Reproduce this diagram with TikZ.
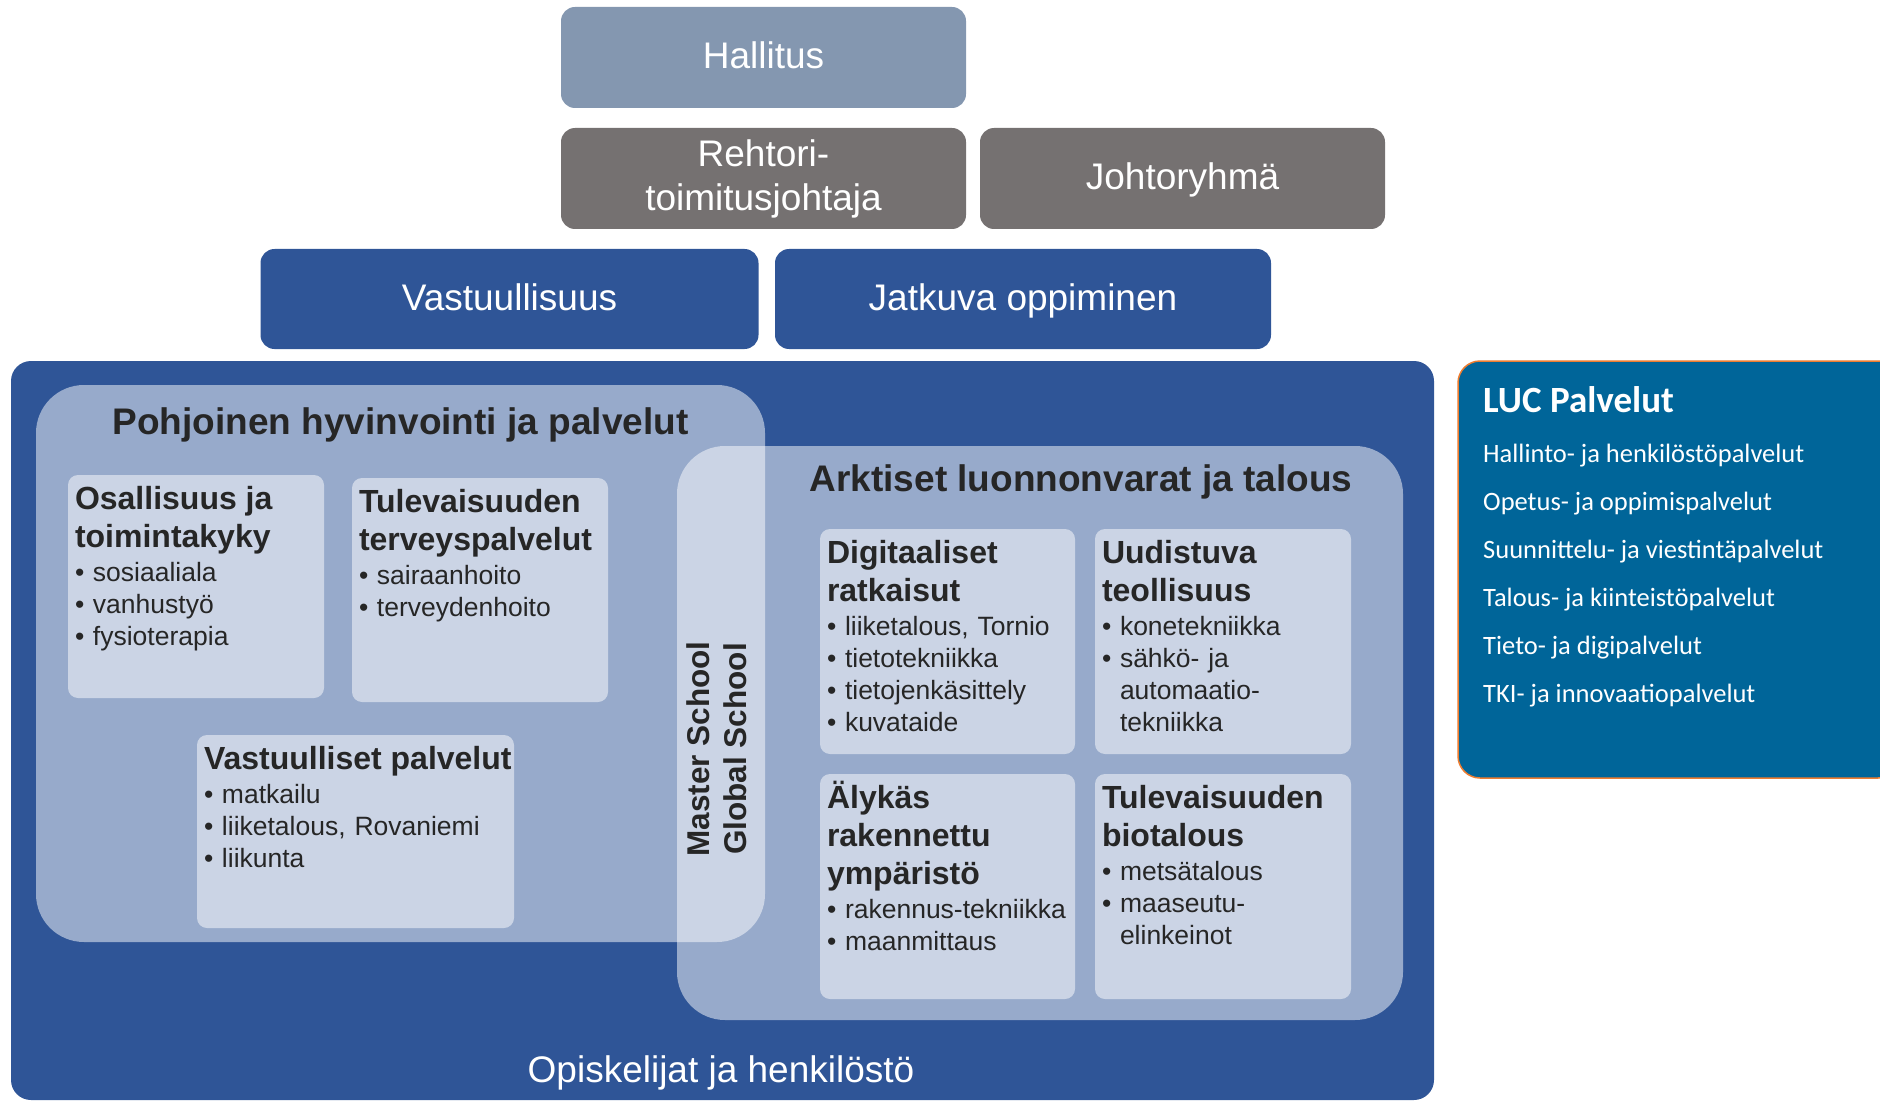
\documentclass[tikz,border=0pt]{standalone}
\usepackage{fontspec}
\setmainfont{Liberation Sans}
\newfontfamily\calibfont{Carlito}
\definecolor{hallc}{RGB}{132,151,176}
\definecolor{greyc}{RGB}{117,113,113}
\definecolor{bluec}{RGB}{47,85,151}
\definecolor{lucc}{RGB}{0,101,153}
\definecolor{orangec}{RGB}{237,125,49}
\definecolor{txtc}{RGB}{38,38,38}
\newcommand\hd{\fontsize{32}{38}\selectfont\bfseries}
\newcommand\bul{\makebox[18pt][l]{\textbullet}}
\newcommand\cont{\hspace*{18pt}}
\newcommand\firstline{\rule{0pt}{30pt}}
\begin{document}
\begin{tikzpicture}[x=1pt,y=-1pt,
  box/.style={rounded corners=14pt, inner sep=0pt, text=white, font=\fontsize{37}{44}\selectfont},
  oneline/.style={text height=27pt, text depth=4pt},
  overlaybox/.style={fill=white, fill opacity=0.5, rounded corners=48pt, inner sep=0pt},
  card/.style={fill=white, fill opacity=0.5, rounded corners=10pt, inner sep=0pt},
  cardtext/.style={anchor=north west, inner sep=0pt, text width=340pt, align=left, text=txtc, font=\fontsize{26.5}{32}\selectfont},
  bigtitle/.style={anchor=base, inner sep=0pt, text=txtc, font=\fontsize{37}{44}\selectfont\bfseries},
  luci/.style={anchor=base west, inner sep=0pt, text=white, font=\calibfont\fontsize{26.5}{32}\selectfont}
]
\useasboundingbox (0,0) rectangle (1880,1102);

% top boxes
\node[box, oneline, fill=hallc, minimum width=405pt, minimum height=101pt] (hall) at (763.5,57.5) {Hallitus};
\node[box, fill=greyc, align=center, minimum width=405pt, minimum height=101pt] (rehtori) at (763.5,178.5) {Rehtori-\\toimitusjohtaja};
\node[box, oneline, fill=greyc, minimum width=405pt, minimum height=101pt] (johto) at (1182.5,178.5) {Johtoryhmä};
\node[box, oneline, fill=bluec, minimum width=498pt, minimum height=100pt] (vast) at (509.5,299) {Vastuullisuus};
\node[box, oneline, fill=bluec, minimum width=496pt, minimum height=100pt] (jatk) at (1023,299) {Jatkuva oppiminen};

% outer box
\node[fill=bluec, rounded corners=20pt, inner sep=0pt, minimum width=1423pt, minimum height=739pt] (outer) at (722.5,730.5) {};
\node[anchor=base, inner sep=0pt, text=white, font=\fontsize{37}{44}\selectfont] (opisk) at (721,1082) {Opiskelijat ja henkilöstö};

% overlays
\node[overlaybox, minimum width=729pt, minimum height=557pt] (pohj) at (400.5,663.5) {};
\node[overlaybox, minimum width=726pt, minimum height=574pt] (arkt) at (1040,733) {};

\node[bigtitle] (pohjt) at (400.5,434) {Pohjoinen hyvinvointi ja palvelut};
\node[bigtitle] (arktt) at (1081,491) {Arktiset luonnonvarat ja talous};

% cards
\node[card, minimum width=256pt, minimum height=223pt] (osal) at (196,586.5) {};
\node[card, minimum width=256pt, minimum height=224pt] (terv) at (480,590) {};
\node[card, minimum width=317pt, minimum height=193pt] (vpalv) at (355.5,831.5) {};
\node[card, minimum width=255pt, minimum height=225pt] (digi) at (947.5,641.5) {};
\node[card, minimum width=256pt, minimum height=225pt] (uudi) at (1223,641.5) {};
\node[card, minimum width=255pt, minimum height=225pt] (alyk) at (947.5,886.5) {};
\node[card, minimum width=256pt, minimum height=225pt] (bio) at (1223,886.5) {};

\node[cardtext] (osalt) at ([xshift=7pt,yshift=-4pt]osal.north west)
  {\firstline{\hd Osallisuus ja}\\[6pt]{\hd toimintakyky}\\[2pt]\bul sosiaaliala\\\bul vanhustyö\\\bul fysioterapia};
\node[cardtext] (tervt) at ([xshift=7pt,yshift=-4pt]terv.north west)
  {\firstline{\hd Tulevaisuuden}\\[6pt]{\hd terveyspalvelut}\\[2pt]\bul sairaanhoito\\\bul terveydenhoito};
\node[cardtext] (vpalvt) at ([xshift=7pt,yshift=-4pt]vpalv.north west)
  {\firstline{\hd Vastuulliset palvelut}\\[2pt]\bul matkailu\\\bul liiketalous, Rovaniemi\\\bul liikunta};
\node[cardtext] (digit) at ([xshift=7pt,yshift=-4pt]digi.north west)
  {\firstline{\hd Digitaaliset}\\[6pt]{\hd ratkaisut}\\[2pt]\bul liiketalous, Tornio\\\bul tietotekniikka\\\bul tietojenkäsittely\\\bul kuvataide};
\node[cardtext] (uudit) at ([xshift=7pt,yshift=-4pt]uudi.north west)
  {\firstline{\hd Uudistuva}\\[6pt]{\hd teollisuus}\\[2pt]\bul konetekniikka\\\bul sähkö- ja\\\cont automaatio-\\\cont tekniikka};
\node[cardtext] (alykt) at ([xshift=7pt,yshift=-4pt]alyk.north west)
  {\firstline{\hd Älykäs}\\[6pt]{\hd rakennettu}\\[6pt]{\hd ympäristö}\\[2pt]\bul rakennus-tekniikka\\\bul maanmittaus};
\node[cardtext] (biot) at ([xshift=7pt,yshift=-4pt]bio.north west)
  {\firstline{\hd Tulevaisuuden}\\[6pt]{\hd biotalous}\\[2pt]\bul metsätalous\\\bul maaseutu-\\\cont elinkeinot};

% schools
\node[rotate=90, align=center, inner sep=0pt, text=txtc, font=\fontsize{31.5}{37}\selectfont\bfseries] (school) at (717,749) {Master School\\Global School};

% LUC Palvelut
\node[fill=lucc, draw=orangec, line width=1.5pt, rounded corners=22pt, inner sep=0pt, minimum width=442pt, minimum height=417pt] (luc) at (1679,569.5) {};
\node[anchor=base west, inner sep=0pt, text=white, font=\calibfont\fontsize{37}{44}\selectfont\bfseries] (luct) at (1483,412) {LUC Palvelut};
\foreach \t [count=\i] in {Hallinto- ja henkilöstöpalvelut, Opetus- ja oppimispalvelut, Suunnittelu- ja viestintäpalvelut, Talous- ja kiinteistöpalvelut, Tieto- ja digipalvelut, TKI- ja innovaatiopalvelut}
  \node[luci] (luc\i) at (1483,414+48*\i) {\t};
\end{tikzpicture}
\end{document}
